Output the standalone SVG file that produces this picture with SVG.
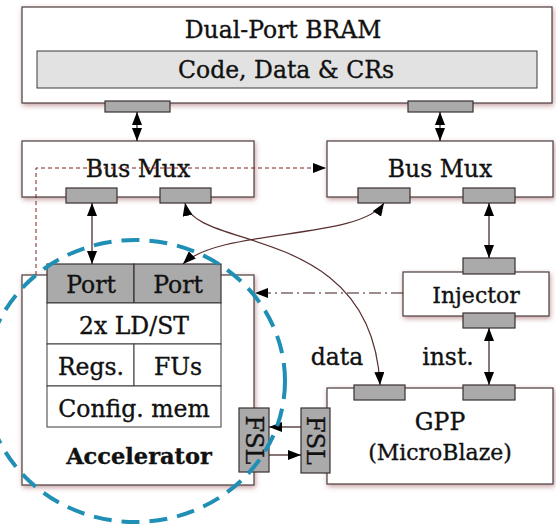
<svg xmlns="http://www.w3.org/2000/svg" width="556" height="525" viewBox="0 0 556 525">
<defs>
<filter id="sh" x="-10%" y="-10%" width="120%" height="125%">
<feDropShadow dx="1" dy="2" stdDeviation="2.5" flood-color="#8b3a3a" flood-opacity="0.5"/>
</filter>
<marker id="ah" markerUnits="userSpaceOnUse" markerWidth="13" markerHeight="10" refX="13" refY="5" orient="auto-start-reverse" viewBox="0 0 13 10">
<path d="M0,0 L13,5 L0,10 z" fill="#000"/>
</marker>
<style>
.box{fill:#fff;stroke:#4a3c3c;stroke-width:1.2;filter:url(#sh)}
.port{fill:#aaa;stroke:#3a3030;stroke-width:1.2}
.cell{fill:#fff;stroke:#3a3a3a;stroke-width:1}
text{font-family:"DejaVu Serif","Liberation Serif",serif;font-size:23.5px;fill:#111;stroke:#111;stroke-width:0.35;text-anchor:middle}
.b{font-weight:bold;font-size:22.5px}
.s{font-size:22px}
.f{font-size:24px}
.c{fill:none;stroke:#3a1a1a;stroke-width:1.2}
.cv{fill:none;stroke:#5a3030;stroke-width:1.2}
.dash{fill:none;stroke:#7a2020;stroke-width:1;stroke-dasharray:4 3}
.dd{fill:none;stroke:#3a1a1a;stroke-width:1.2;stroke-dasharray:12 4 2 4}
</style>
</defs>
<rect width="556" height="525" fill="#fff"/>

<g id="bram">
<rect class="box" x="22" y="7" width="530" height="96"/>
<text x="283" y="38">Dual-Port BRAM</text>
<rect x="37" y="51" width="500" height="37" fill="#e2e2e2" stroke="#3a3a3a" stroke-width="1"/>
<text x="286" y="78">Code, Data &amp; CRs</text>
<rect class="port" x="105" y="101" width="65" height="11"/>
<rect class="port" x="408" y="101" width="65" height="11"/>
</g>

<g id="busmux-left">
<rect class="box" x="22" y="141" width="232" height="56"/>
<text x="138" y="177">Bus Mux</text>
<rect class="port" x="66" y="188" width="51" height="15"/>
<rect class="port" x="160" y="188" width="51" height="15"/>
</g>

<g id="busmux-right">
<rect class="box" x="327" y="141" width="226" height="56"/>
<text x="440" y="177">Bus Mux</text>
<rect class="port" x="358" y="188" width="52" height="15"/>
<rect class="port" x="463" y="188" width="52" height="15"/>
</g>

<g id="injector">
<rect class="box" x="403" y="272" width="146" height="44"/>
<text class="s" x="476" y="303">Injector</text>
<rect class="port" x="463" y="258" width="52" height="16"/>
<rect class="port" x="463" y="313" width="52" height="15"/>
</g>

<g id="gpp">
<rect class="box" x="327" y="388" width="226" height="96"/>
<text x="440" y="430">GPP</text>
<text class="s" x="440" y="460">(MicroBlaze)</text>
<rect class="port" x="354" y="385" width="51" height="15"/>
<rect class="port" x="463" y="385" width="52" height="15"/>
<rect class="port" x="301" y="408" width="29" height="65"/>
<text class="f" transform="translate(315.5,440.5) rotate(90)" y="8.5">FSL</text>
</g>

<g id="accelerator">
<rect class="box" x="22" y="275" width="232" height="210"/>
<rect class="port" x="47" y="264" width="87" height="39"/>
<rect class="port" x="134" y="264" width="87" height="39"/>
<text x="91" y="293">Port</text>
<text x="178" y="293">Port</text>
<rect class="cell" x="47" y="303" width="174" height="41"/>
<text x="134" y="334">2x LD/ST</text>
<rect class="cell" x="47" y="344" width="87" height="42"/>
<rect class="cell" x="134" y="344" width="87" height="42"/>
<text x="91" y="375">Regs.</text>
<text x="178" y="375">FUs</text>
<rect class="cell" x="47" y="386" width="174" height="41"/>
<text x="134" y="417">Config. mem</text>
<text class="b" x="139" y="464">Accelerator</text>
<rect class="port" x="239" y="408" width="30" height="64"/>
<text class="f" transform="translate(254,440) rotate(90)" y="8.5">FSL</text>
</g>

<g id="labels">
<text x="337" y="365">data</text>
<text x="448" y="365">inst.</text>
</g>

<g id="connectors">
<path class="c" d="M137,112 L137,141" marker-start="url(#ah)" marker-end="url(#ah)"/>
<path class="c" d="M440,112 L440,141" marker-start="url(#ah)" marker-end="url(#ah)"/>
<path class="c" d="M92,203 L92,264" marker-start="url(#ah)" marker-end="url(#ah)"/>
<path class="c" d="M489,203 L489,258" marker-start="url(#ah)" marker-end="url(#ah)"/>
<path class="c" d="M489,328 L489,385" marker-start="url(#ah)" marker-end="url(#ah)"/>
<path class="cv" d="M185,203 C195,252 372,222 380,385" marker-start="url(#ah)" marker-end="url(#ah)"/>
<path class="cv" d="M384,203 C360,240 220,228 183,264" marker-start="url(#ah)" marker-end="url(#ah)"/>
<path class="dash" d="M36,275 L36,168 L326,168" marker-end="url(#ah)"/>
<path class="dd" d="M403,293 L255,293" marker-end="url(#ah)"/>
<path class="c" d="M301,427 L269,427" marker-end="url(#ah)"/>
<path class="c" d="M269,455 L301,455" marker-end="url(#ah)"/>
</g>

<g id="accelerator-boundary">
<ellipse cx="135" cy="381" rx="150" ry="141" fill="none" stroke="#1f8fb5" stroke-width="4" stroke-dasharray="18 10"/>
</g>
</svg>
